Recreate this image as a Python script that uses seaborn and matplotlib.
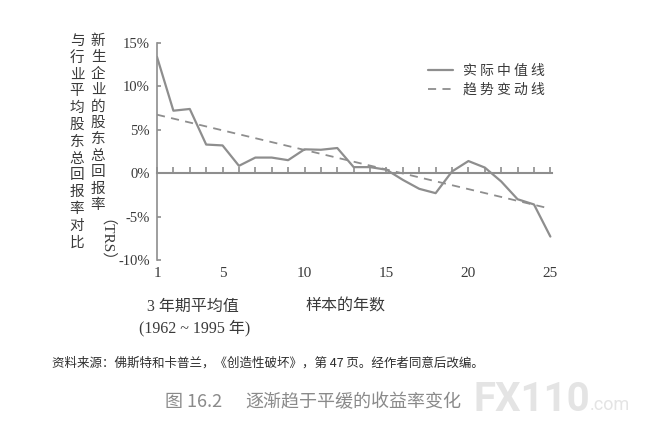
import matplotlib
matplotlib.use("Agg")
import matplotlib.pyplot as plt
import pandas as pd
import seaborn as sns

# ----------------------------
# Data
# ----------------------------
years = list(range(1, 26))
median_trs = [13.4, 7.2, 7.4, 3.3, 3.2, 0.85, 1.8, 1.8, 1.5, 2.75, 2.7, 2.9, 0.7,
              0.7, 0.4, -0.77, -1.8, -2.3, 0.2, 1.4, 0.65, -0.95, -3.0, -3.6, -7.3]
x_tick_years = [1, 5, 10, 15, 20, 25]
y_ticks = [-10, -5, 0, 5, 10, 15]
legend_labels = ["实际中值线", "趋势变动线"]
ylabel_col1 = "新生企业的股东总回报率"
ylabel_col1_tail = "（TRS）"
ylabel_col2 = "与行业平均股东总回报率对比"
xlabel_left = ["3 年期平均值", "(1962 ~ 1995 年)"]
xlabel_right = "样本的年数"
source_note = "资料来源：佛斯特和卡普兰，《创造性破坏》，第 47 页。经作者同意后改编。"
fig_no = "图 16.2"
fig_title = "逐渐趋于平缓的收益率变化"

df = pd.DataFrame({"year": years, "trs": median_trs})

# ----------------------------
# Style
# ----------------------------
sns.set_theme(style="white")
plt.rcParams["font.family"] = ["Noto Sans CJK SC", "DejaVu Sans"]
line_gray = "#8e8e8e"
text_dark = "#3a3a3a"
serif = ["Liberation Serif", "Noto Sans CJK SC"]

W, H = 651, 440
fig = plt.figure(figsize=(W / 100, H / 100), dpi=100)
fig.patch.set_facecolor("white")
ax = fig.add_axes([157 / W, 180 / H, (552 - 157) / W, 217 / H])

# ----------------------------
# Lines
# ----------------------------
sns.lineplot(data=df, x="year", y="trs", ax=ax, color=line_gray, lw=1.6,
             label=legend_labels[0])
sns.regplot(data=df, x="year", y="trs", ax=ax, scatter=False, ci=None,
            color=line_gray, label=legend_labels[1],
            line_kws=dict(lw=1.3, linestyle=(0, (4.5, 3.5))))

ax.set_xlim(1, 25.1)
ax.set_ylim(-10, 15)
ax.set_xlabel("")
ax.set_ylabel("")

# zero line with small ticks at every year
for side in ["top", "right"]:
    ax.spines[side].set_visible(False)
ax.spines["bottom"].set_position(("data", 0))
ax.spines["bottom"].set_color(line_gray)
ax.spines["bottom"].set_linewidth(1.5)
ax.spines["left"].set_color(line_gray)
ax.spines["left"].set_linewidth(1.2)
ax.set_xticks(years)
ax.tick_params(axis="x", bottom=True, direction="in", length=4, width=1.2,
               color=line_gray, labelbottom=False)

# year labels below the plot
sec = ax.secondary_xaxis(0)
sec.set_xticks(x_tick_years, labels=[str(v) for v in x_tick_years],
               fontfamily=serif, fontsize=11, color=text_dark)
sec.tick_params(length=0, pad=5)
sec.spines["bottom"].set_visible(False)

ax.set_yticks(y_ticks, labels=[f"{v}%" for v in y_ticks],
              fontfamily=serif, fontsize=10.5, color=text_dark)
ax.tick_params(axis="y", direction="in", length=3, width=1.2, color=line_gray,
               pad=5, left=True)

# legend
leg = ax.legend(loc="upper left", bbox_to_anchor=(428 / W, 1 - 64 / H),
                bbox_transform=fig.transFigure, frameon=False, fontsize=10,
                handlelength=1.8, handletextpad=0.7, labelspacing=0.35,
                borderpad=0, borderaxespad=0)
for t in leg.get_texts():
    t.set_text(" ".join(t.get_text()))
    t.set_color(text_dark)

# ----------------------------
# Vertical y-axis label (two upright columns)
# ----------------------------
pitch = 16.4
for i, ch in enumerate(ylabel_col1):
    fig.text(98 / W, 1 - (41 + i * pitch) / H, ch, ha="center", va="center",
             fontsize=10.5, color=text_dark)
fig.text(98 / W, 1 - 248 / H, ylabel_col1_tail, rotation=270, ha="center",
         va="center", fontsize=11, color=text_dark, family=serif)
for i, ch in enumerate(ylabel_col2):
    fig.text(77 / W, 1 - (41 + i * 16.8) / H, ch, ha="center", va="center",
             fontsize=10.5, color=text_dark)

# ----------------------------
# Texts below the axes
# ----------------------------
fig.text(193 / W, 1 - 307 / H, xlabel_left[0], ha="center", va="center",
         fontsize=11.5, color=text_dark, family=serif)
fig.text(195 / W, 1 - 328 / H, xlabel_left[1], ha="center", va="center",
         fontsize=11.5, color=text_dark, family=serif)
fig.text(345 / W, 1 - 307 / H, xlabel_right, ha="center", va="center",
         fontsize=11.5, color=text_dark, family=serif)

fig.text(52 / W, 1 - 363 / H, source_note, ha="left", va="center",
         fontsize=9, color="#2e2e2e")

fig.text(165 / W, 1 - 402 / H, fig_no, ha="left", va="center",
         fontsize=13, color="#8a8a8a")
fig.text(245 / W, 1 - 402 / H, fig_title, ha="left", va="center",
         fontsize=13, color="#8a8a8a")

# watermark
fig.text(473 / W, 1 - 400 / H, "FX110", ha="left", va="center", fontsize=29,
         fontweight="bold", color="#e4e4e4", family=["Roboto", "DejaVu Sans"])
fig.text(590 / W, 1 - 405 / H, ".com", ha="left", va="center", fontsize=13,
         color="#e4e4e4", family=["Roboto", "DejaVu Sans"])

fig.savefig("out.png", dpi=100, facecolor="white")
